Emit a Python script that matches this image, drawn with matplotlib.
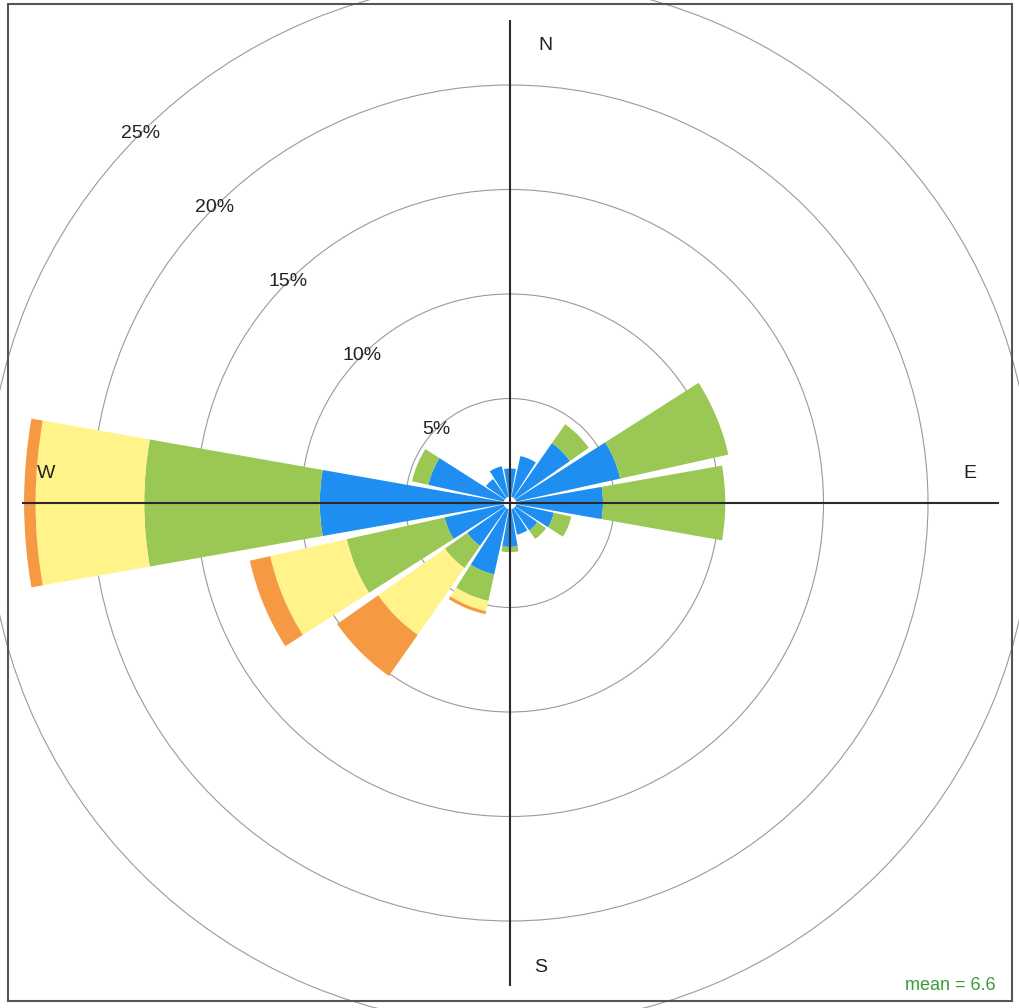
import numpy as np
import matplotlib.pyplot as plt
from matplotlib.patches import Rectangle

# wind direction sectors (degrees, clockwise from north)
directions = [0, 22.5, 45, 67.5, 90, 112.5, 135, 157.5,
              180, 202.5, 225, 247.5, 270, 292.5, 315, 337.5]

# frequency (%) of each speed class per sector
blue = [1.65, 2.3, 3.5, 5.4, 4.45, 2.15, 1.6, 1.55,
        2.1, 3.5, 2.5, 3.2, 9.1, 4.0, 1.4, 1.8]
green = [0, 0, 1.1, 5.3, 5.85, 0.85, 0.5, 0,
         0.25, 1.3, 1.3, 4.8, 8.4, 0.8, 0, 0]
yellow = [0, 0, 0, 0, 0, 0, 0, 0,
          0, 0.5, 3.9, 3.75, 5.2, 0, 0, 0]
orange = [0, 0, 0, 0, 0, 0, 0, 0,
          0, 0.15, 2.4, 1.0, 0.55, 0, 0, 0]

ring_values = [5, 10, 15, 20, 25]
compass = ["N", "E", "S", "W"]
mean_label = "mean = 6.6"

colors = ["#1f8ef1", "#9bc854", "#fff389", "#f59a43"]

W, H = 1020, 1008
cx, cy = 510, 503          # centre of the rose in pixels
px_per_pct = 20.9
rmax = 26

fig = plt.figure(figsize=(W / 100, H / 100), dpi=100)
fig.patch.set_facecolor("white")

R = rmax * px_per_pct
ax = fig.add_axes([(cx - R) / W, (H - cy - R) / H, 2 * R / W, 2 * R / H],
                  projection="polar")
ax.set_theta_zero_location("N")
ax.set_theta_direction(-1)
ax.set_ylim(0, rmax)
ax.patch.set_visible(False)
ax.spines["polar"].set_visible(False)
ax.set_xticks([])
ax.set_yticks(ring_values)
ax.set_yticklabels([])
ax.yaxis.grid(True, color="#9a9a9a", linewidth=0.8)
ax.tick_params(axis="y", length=0)

theta = np.deg2rad(directions)
width = np.deg2rad(20)

# stacked paddles
bottom = np.zeros(len(directions))
for vals, col in zip([blue, green, yellow, orange], colors):
    vals = np.array(vals)
    ax.bar(theta, vals, width=width, bottom=bottom, color=col,
           edgecolor="none", linewidth=0, zorder=2)
    bottom = bottom + vals

# small hole in the middle
ax.bar(0, 0.3, width=2 * np.pi, bottom=0, color="white", zorder=3)

# compass axis lines
for ang, length in [(0, 23.1), (90, 23.4), (180, 23.1), (270, 23.35)]:
    ax.plot([np.deg2rad(ang)] * 2, [0, length], color="#2a2a2a",
            linewidth=1.5, zorder=4, solid_capstyle="butt")

# ring labels on the NW diagonal
for v in ring_values:
    ax.text(np.deg2rad(315), v, f"{v}%", ha="center", va="center",
            fontsize=14, color="#222222", family="Liberation Sans", zorder=5)

# compass letters
pos = {"N": (545, 45), "E": (970, 473), "S": (541, 968), "W": (46, 473)}
for c in compass:
    x, y = pos[c]
    fig.text(x / W, 1 - y / H, c, ha="center", va="center", fontsize=14,
             color="#222222", family="Liberation Sans")

fig.text(996 / W, 1 - 985 / H, mean_label, ha="right", va="center",
         fontsize=13, color="#3f9a3f", family="Liberation Sans")

# outer frame
fig.patches.append(Rectangle((8 / W, 1 - 1001 / H), 1004 / W, 997 / H,
                             transform=fig.transFigure, fill=False,
                             edgecolor="#555555", linewidth=1.5, zorder=10))

fig.savefig("out.png", dpi=100)
